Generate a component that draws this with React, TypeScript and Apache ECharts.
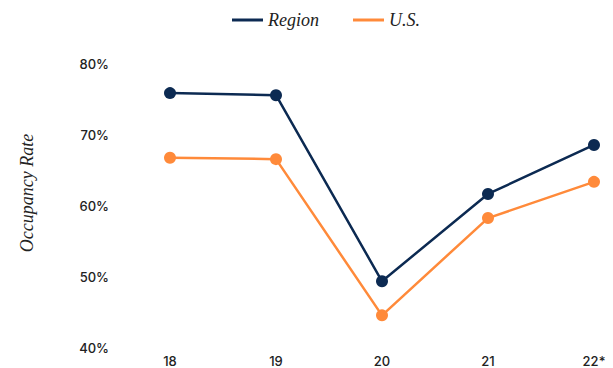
import React, { useEffect, useRef } from "react";
import * as echarts from "echarts";

const categories = ["18", "19", "20", "21", "22*"];
const regionValues = [75.9, 75.6, 49.4, 61.7, 68.6];
const usValues = [66.8, 66.6, 44.6, 58.3, 63.4];
const yTicks = { min: 40, max: 80, interval: 10 };

export default function App() {
  const ref = useRef<HTMLDivElement>(null);
  useEffect(() => {
    const chart = echarts.init(ref.current!, null, { renderer: "svg" });
    chart.setOption({
      animation: false,
      backgroundColor: "#ffffff",
      legend: {
        top: 6,
        left: 227,
        itemWidth: 31,
        itemHeight: 3,
        itemGap: 34,
        icon: "rect",
        textStyle: {
          fontFamily: "Liberation Serif",
          fontStyle: "italic",
          fontSize: 18,
          color: "#222",
        },
        data: ["Region", "U.S."],
      },
      grid: { left: 170, right: 19, top: 64, bottom: 20 },
      xAxis: {
        type: "category",
        data: categories,
        boundaryGap: false,
        axisLine: { show: false },
        axisTick: { show: false },
        axisLabel: {
          margin: 6,
          fontFamily: "Inter",
          fontSize: 13,
          fontWeight: 500,
          color: "#222",
        },
      },
      yAxis: {
        type: "value",
        min: yTicks.min,
        max: yTicks.max,
        interval: yTicks.interval,
        splitLine: { show: false },
        axisLine: { show: false },
        axisTick: { show: false },
        axisLabel: {
          margin: 61,
          formatter: "{value}%",
          fontFamily: "Inter",
          fontSize: 13,
          fontWeight: 500,
          color: "#222",
        },
      },
      graphic: [
        {
          type: "text",
          x: 27,
          y: 193,
          rotation: Math.PI / 2,
          style: {
            text: "Occupancy Rate",
            fontFamily: "Liberation Serif",
            fontStyle: "italic",
            fontSize: 18,
            fill: "#222",
            align: "center",
            verticalAlign: "middle",
          },
        },
      ],
      series: [
        {
          name: "Region",
          type: "line",
          data: regionValues,
          symbol: "circle",
          symbolSize: 12,
          lineStyle: { width: 2.5, color: "#0c2a52" },
          itemStyle: { color: "#0c2a52" },
        },
        {
          name: "U.S.",
          type: "line",
          data: usValues,
          symbol: "circle",
          symbolSize: 12,
          lineStyle: { width: 2.5, color: "#ff8a3a" },
          itemStyle: { color: "#ff8a3a" },
        },
      ],
    });
    return () => chart.dispose();
  }, []);
  return <div ref={ref} style={{ width: 613, height: 368, position: "absolute", left: 0, top: 0 }} />;
}
